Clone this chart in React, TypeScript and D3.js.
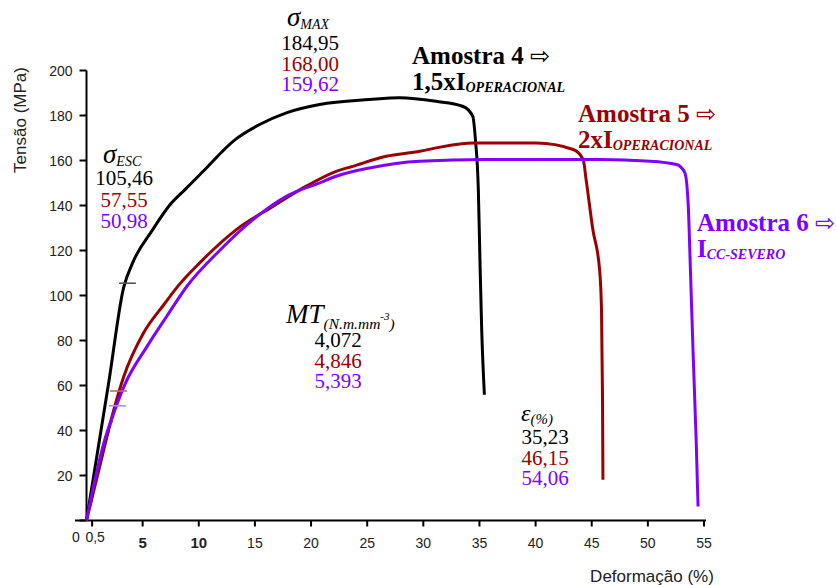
import React from "react";
import * as d3 from "d3";

// ---- data ----
const strain4 = [0, 1, 2, 3.3, 4.11, 5.9, 7.38, 8.86, 10.35, 13.3, 15.42, 17.8, 20.76, 25.2, 27.87, 31.14, 33.5, 34.4, 34.64, 34.9, 35.05, 35.2, 35.44];
const stress4 = [0, 31, 62, 103.4, 114.5, 129.3, 140, 147.5, 155, 169.5, 176, 181.2, 184.9, 187.1, 187.9, 186.3, 184.1, 179.7, 169.3, 147, 114.5, 84.8, 55.9];

const strain5 = [0, 1.25, 2.43, 3.32, 5.04, 6.9, 8.2, 10.08, 13.35, 16.6, 19.57, 22.24, 23.7, 26.7, 29.7, 31.14, 34.46, 40.1, 43.35, 44.24, 44.5, 45.1, 45.7, 45.87, 45.96, 46.0];
const stress5 = [0, 25.5, 49.2, 64, 83, 96, 104.5, 114.5, 129.3, 139.6, 148.6, 155.2, 157.4, 161.9, 164.1, 165.6, 167.8, 167.8, 164.9, 160.4, 151.5, 129.3, 111.5, 93.7, 55.1, 18.1];

const strain6 = [0, 1.54, 2.43, 3.4, 5.4, 7.18, 8.93, 11.86, 14.83, 17.8, 20.76, 22.24, 25.2, 29.65, 35.6, 45.7, 50.2, 52.55, 53.3, 53.6, 53.8, 54.04, 54.3, 54.47];
const stress6 = [0, 34.4, 47.8, 60.3, 77.4, 91, 104, 120, 133.7, 144.1, 150.1, 153, 156.7, 159.7, 160.4, 160.4, 159.7, 158.2, 154.5, 139.6, 110, 72.9, 35.9, 6.2];

const yieldStress = [105.46, 57.55, 50.98];
const yieldFrom = [2.9, 2.1, 2.0];
const yieldTo = [4.4, 3.6, 3.5];

const offsetStrain5 = [0.9, 2.45];
const offsetStress5 = [22, 46.5];
const offsetStrain6 = [0.35, 0.8];
const offsetStress6 = [6, 15];

const xTicks = [0.5, 5, 10, 15, 20, 25, 30, 35, 40, 45, 50, 55];
const xTickLabels = ["0,5", "5", "10", "15", "20", "25", "30", "35", "40", "45", "50", "55"];
const yTicks = [0, 20, 40, 60, 80, 100, 120, 140, 160, 180, 200];

const sigmaMax = ["184,95", "168,00", "159,62"];
const sigmaEsc = ["105,46", "57,55", "50,98"];
const mtValues = ["4,072", "4,846", "5,393"];
const epsValues = ["35,23", "46,15", "54,06"];

const colors = ["#000000", "#9a0000", "#7f00ff"];
const yieldColors = ["#555555", "#c06868", "#a888ff"];

const W = 836;
const H = 585;

export default function App() {
  const x = d3.scaleLinear().domain([0, 55]).range([86.5, 704]);
  const y = d3.scaleLinear().domain([0, 200]).range([520.5, 70.5]);

  const line = d3
    .line<[number, number]>()
    .x((d) => x(d[0]))
    .y((d) => y(d[1]))
    .curve(d3.curveMonotoneX);

  const series = [
    d3.zip(strain4, stress4) as [number, number][],
    d3.zip(strain5, stress5) as [number, number][],
    d3.zip(strain6, stress6) as [number, number][],
  ];

  const straight = d3
    .line<[number, number]>()
    .x((d) => x(d[0]))
    .y((d) => y(d[1]));

  const serif = "'Liberation Serif', 'Times New Roman', serif";
  const sans = "'Liberation Sans', Arial, sans-serif";
  const arrowFont = "'DejaVu Sans', sans-serif";

  const valueBlock = (vals: string[], cx: number, y0: number, dy: number) =>
    vals.map((v, i) => (
      <text key={v + i} x={cx} y={y0 + i * dy} textAnchor="middle" fontFamily={serif} fontSize={21} fill={colors[i]}>
        {v}
      </text>
    ));

  const sample = (l1: string, l2: string, sub: string, px: number, py: number, c: string) => (
    <g>
      <text x={px} y={py} fontFamily={serif} fontWeight="bold" fontSize={25} fill={c}>
        {l1}{" "}
        <tspan fontFamily={arrowFont} fontWeight="normal" fontSize={24}>
          ⇨
        </tspan>
      </text>
      <text x={px} y={py + 26} fontFamily={serif} fontWeight="bold" fontSize={25} fill={c}>
        {l2}
        <tspan fontSize={14} fontStyle="italic" dy={2}>
          {sub}
        </tspan>
      </text>
    </g>
  );

  return (
    <svg width={W} height={H} style={{ position: "absolute", left: 0, top: 0, background: "#fff" }}>
      <rect x={0} y={0} width={W} height={H} fill="#fff" />

      {/* axes */}
      <line x1={x(0)} y1={y(0)} x2={x(0)} y2={y(200)} stroke="#000" strokeWidth={2} />
      <line x1={75} y1={y(0)} x2={x(55) + 2} y2={y(0)} stroke="#000" strokeWidth={2} />
      {yTicks.map((t) => (
        <g key={"yt" + t}>
          <line x1={x(0) - 7} x2={x(0)} y1={y(t)} y2={y(t)} stroke="#000" strokeWidth={2} />
          {t > 0 && (
            <text x={x(0) - 14} y={y(t) + 5} textAnchor="end" fontFamily={sans} fontSize={14} fill="#222">
              {t}
            </text>
          )}
        </g>
      ))}
      {xTicks.map((t, i) => (
        <g key={"xt" + t}>
          <line x1={x(t)} x2={x(t)} y1={y(0)} y2={y(0) + 6} stroke="#000" strokeWidth={2} />
          <text
            x={t === 0.5 ? x(t) + 3 : x(t)}
            y={t === 0.5 ? 542 : 548}
            textAnchor="middle"
            fontFamily={sans}
            fontSize={t === 5 || t === 10 ? 15 : 14}
            fontWeight={t === 5 || t === 10 ? "bold" : "normal"}
            fill="#222"
          >
            {xTickLabels[i]}
          </text>
        </g>
      ))}
      <text x={76} y={542} textAnchor="middle" fontFamily={sans} fontSize={14} fill="#222">
        0
      </text>

      <text
        transform={`translate(26,120) rotate(-90)`}
        textAnchor="middle"
        fontFamily={sans}
        fontSize={17}
        fill="#222"
      >
        Tensão (MPa)
      </text>
      <text x={652} y={582} textAnchor="middle" fontFamily={sans} fontSize={17} fill="#222">
        Deformação (%)
      </text>

      {/* offset (dashed) lines */}
      <path
        d={straight(d3.zip(offsetStrain5, offsetStress5) as [number, number][]) || ""}
        stroke={colors[1]}
        strokeWidth={1}
        strokeDasharray="3,2"
        fill="none"
      />
      <path
        d={straight(d3.zip(offsetStrain6, offsetStress6) as [number, number][]) || ""}
        stroke={colors[2]}
        strokeWidth={1}
        strokeDasharray="3,2"
        fill="none"
      />

      {/* curves */}
      {series.map((s, i) => (
        <path
          key={"s" + i}
          d={line(s) || ""}
          fill="none"
          stroke={colors[i]}
          strokeWidth={3}
          strokeLinejoin="round"
        />
      ))}

      {/* yield marks */}
      {yieldStress.map((v, i) => (
        <line
          key={"ym" + i}
          x1={x(yieldFrom[i])}
          x2={x(yieldTo[i])}
          y1={y(v)}
          y2={y(v)}
          stroke={yieldColors[i]}
          strokeWidth={1.6}
        />
      ))}

      {/* sigma max */}
      <text x={287} y={26} fontFamily={serif} fontStyle="italic" fontSize={27} fill="#000">
        σ
        <tspan fontSize={14} dy={3}>
          MAX
        </tspan>
      </text>
      {valueBlock(sigmaMax, 310, 50, 20.7)}

      {/* sigma esc */}
      <text x={103} y={163} fontFamily={serif} fontStyle="italic" fontSize={27} fill="#000">
        σ
        <tspan fontSize={14} dy={3}>
          ESC
        </tspan>
      </text>
      {valueBlock(sigmaEsc, 124, 185, 21.5)}

      {/* MT */}
      <text x={286} y={323} fontFamily={serif} fontStyle="italic" fontSize={27} fill="#000">
        MT
        <tspan fontSize={15.5} dy={6}>
          (N.m.mm
        </tspan>
        <tspan fontSize={11} dy={-9}>
          -3
        </tspan>
        <tspan fontSize={15.5} dy={9}>
          )
        </tspan>
      </text>
      {valueBlock(mtValues, 338, 347, 20.5)}

      {/* epsilon */}
      <text x={521} y={421} fontFamily={serif} fontStyle="italic" fontSize={24} fill="#000">
        ε
        <tspan fontSize={15} dy={3}>
          (%)
        </tspan>
      </text>
      {valueBlock(epsValues, 545, 444, 20.5)}

      {/* sample labels */}
      {sample("Amostra 4", "1,5xI", "OPERACIONAL", 412, 64, colors[0])}
      {sample("Amostra 5", "2xI", "OPERACIONAL", 578, 122, colors[1])}
      {sample("Amostra 6", "I", "CC-SEVERO", 697, 231, colors[2])}
    </svg>
  );
}
